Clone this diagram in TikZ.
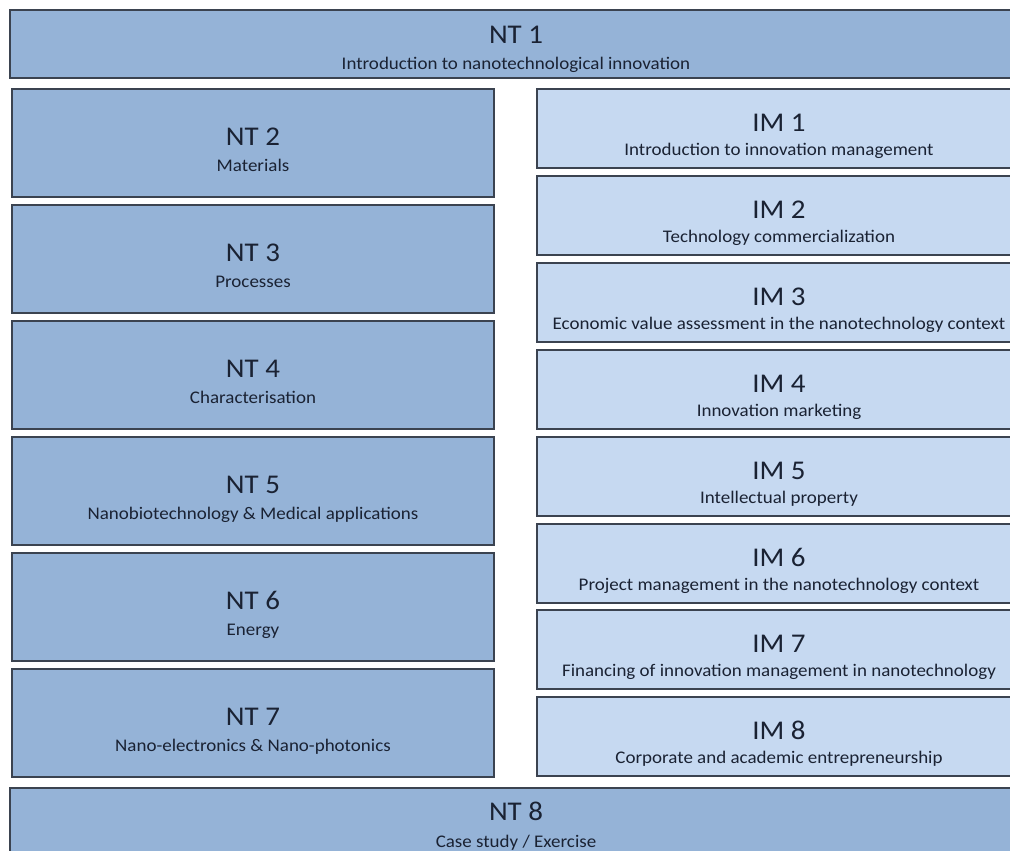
\documentclass[tikz,border=0pt]{standalone}
\usepackage{fontspec}
\setmainfont{Carlito}[FakeStretch=1.07]
\usepackage{xcolor}

\definecolor{ntfill}{HTML}{95B3D7}
\definecolor{imfill}{HTML}{C6D9F1}
\definecolor{boxline}{HTML}{3B4350}
\definecolor{txtnavy}{HTML}{1A2233}

\tikzset{
  box/.style={draw=boxline, line width=0.9pt, inner sep=0pt, outer sep=0pt},
  ntbox/.style={box, fill=ntfill, minimum width=9.64cm, minimum height=2.16cm},
  imbox/.style={box, fill=imfill, minimum width=9.68cm, minimum height=1.58cm},
  widebox/.style={box, fill=ntfill, minimum width=20.24cm, minimum height=1.36cm},
  ttl/.style={anchor=base, inner sep=0pt, text=txtnavy, font=\fontsize{15.4}{17}\selectfont},
  sub/.style={anchor=base, inner sep=0pt, text=txtnavy, font=\fontsize{10.1}{12}\selectfont}
}

\begin{document}
\begin{tikzpicture}[x=0.02cm,y=-0.02cm]
\useasboundingbox (0,0) rectangle (1010,850);
\fill[white] (0,0) rectangle (1010,850);

\node[widebox] (nt1) at (516,44) {};
\node[ttl] (nt1t) at (516,43) {NT 1};
\node[sub] (nt1s) at (516,69) {Introduction to nanotechnological innovation};

\node[ntbox] (nt2) at (253,143) {};
\node[ttl] (nt2t) at (253,145) {NT 2};
\node[sub] (nt2s) at (253,171) {Materials};
\node[ntbox] (nt3) at (253,259) {};
\node[ttl] (nt3t) at (253,261) {NT 3};
\node[sub] (nt3s) at (253,287) {Processes};
\node[ntbox] (nt4) at (253,375) {};
\node[ttl] (nt4t) at (253,377) {NT 4};
\node[sub] (nt4s) at (253,403) {Characterisation};
\node[ntbox] (nt5) at (253,491) {};
\node[ttl] (nt5t) at (253,493) {NT 5};
\node[sub] (nt5s) at (253,519) {Nanobiotechnology \& Medical applications};
\node[ntbox] (nt6) at (253,607) {};
\node[ttl] (nt6t) at (253,609) {NT 6};
\node[sub] (nt6s) at (253,635) {Energy};
\node[ntbox] (nt7) at (253,723) {};
\node[ttl] (nt7t) at (253,725) {NT 7};
\node[sub] (nt7s) at (253,751) {Nano-electronics \& Nano-photonics};

\node[imbox] (im1) at (779,128.5) {};
\node[ttl] (im1t) at (779,131) {IM 1};
\node[sub] (im1s) at (779,155) {Introduction to innovation management};
\node[imbox] (im2) at (779,215.5) {};
\node[ttl] (im2t) at (779,218) {IM 2};
\node[sub] (im2s) at (779,242) {Technology commercialization};
\node[imbox] (im3) at (779,302.5) {};
\node[ttl] (im3t) at (779,305) {IM 3};
\node[sub] (im3s) at (779,329) {Economic value assessment in the nanotechnology context};
\node[imbox] (im4) at (779,389.5) {};
\node[ttl] (im4t) at (779,392) {IM 4};
\node[sub] (im4s) at (779,416) {Innovation marketing};
\node[imbox] (im5) at (779,476.5) {};
\node[ttl] (im5t) at (779,479) {IM 5};
\node[sub] (im5s) at (779,503) {Intellectual property};
\node[imbox] (im6) at (779,563.5) {};
\node[ttl] (im6t) at (779,566) {IM 6};
\node[sub] (im6s) at (779,590) {Project management in the nanotechnology context};
\node[imbox] (im7) at (779,649.5) {};
\node[ttl] (im7t) at (779,652) {IM 7};
\node[sub] (im7s) at (779,676) {Financing of innovation management in nanotechnology};
\node[imbox] (im8) at (779,736.5) {};
\node[ttl] (im8t) at (779,739) {IM 8};
\node[sub] (im8s) at (779,763) {Corporate and academic entrepreneurship};

\node[widebox] (nt8) at (516,822) {};
\node[ttl] (nt8t) at (516,820) {NT 8};
\node[sub] (nt8s) at (516,847) {Case study / Exercise};
\end{tikzpicture}
\end{document}
